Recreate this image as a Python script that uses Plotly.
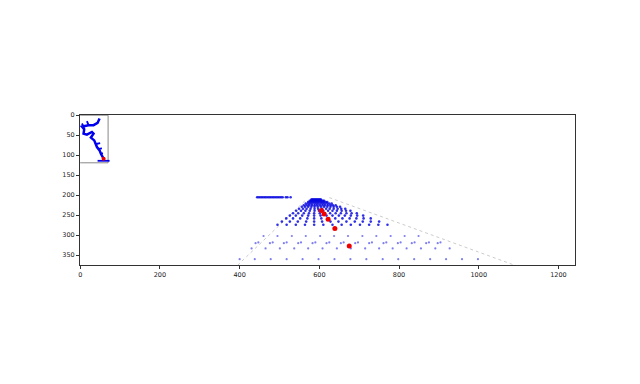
import plotly.graph_objects as go

# ---------------- data (image pixel coordinates) ----------------
IMG_W = 1242
IMG_H = 375
x_ticks = [0, 200, 400, 600, 800, 1000, 1200]
y_ticks = [0, 50, 100, 150, 200, 250, 300, 350]

# horizon row of blue points
row205_x = [444, 448, 452, 456, 460, 464, 468, 472, 476, 480, 484, 488, 492, 496,
            500, 504, 508, 516, 520, 528]
row205_y = 205

# fan of ground-grid points converging toward the vanishing point
fan_rows_y = [211, 214, 217, 221, 225, 229, 234, 239, 245, 251, 258, 266, 274]
fan_rows_x = [
    [580, 582, 584, 586, 588, 590, 592, 594, 596, 598, 600, 602, 604],
    [576, 579, 582, 585, 588, 591, 594, 597, 600, 603, 606, 609, 612],
    [572, 576, 580, 584, 588, 592, 596, 600, 604, 608, 612, 616, 620],
    [566, 572, 577, 582, 588, 593, 598, 604, 609, 614, 620, 625, 631],
    [561, 568, 574, 581, 588, 594, 601, 608, 614, 621, 628, 634, 641],
    [556, 564, 572, 580, 588, 596, 604, 612, 620, 628, 636, 644, 652],
    [549, 559, 568, 578, 588, 597, 607, 617, 626, 636, 646, 655, 665],
    [542, 554, 565, 576, 588, 599, 610, 622, 633, 644, 656, 667, 678],
    [534, 547, 561, 574, 587, 601, 614, 627, 641, 654, 668, 681, 694],
    [526, 541, 557, 572, 587, 603, 618, 633, 649, 664, 679, 695, 710],
    [517, 534, 552, 570, 587, 605, 623, 640, 658, 676, 693, 711, 729],
    [506, 526, 546, 567, 587, 607, 628, 648, 668, 689, 709, 729, 750],
    [495, 518, 541, 564, 587, 610, 633, 656, 679, 702, 725, 748, 771],
]

# nearer rows
row302_x = [460, 495, 531, 566, 602, 637, 672, 708, 743, 779, 814, 849]
row320_x = [440, 476, 511, 547, 583, 618, 654, 690, 725, 761, 797, 832, 868, 897]
row320b_x = [447, 483, 518, 554, 590, 625, 661, 697, 732, 768, 804, 839, 875, 904]
row333_x = [430, 465, 501, 537, 572, 608, 644, 679, 715, 750, 784, 819, 855, 891, 927]
row360_x = [400, 438, 478, 518, 558, 598, 638, 678, 718, 759, 798, 838, 878, 918, 958, 998]
near_rows_y = [302, 320, 318, 333, 360]

# red trajectory points
red_x = [605, 612, 622, 639, 675]
red_y = [238, 247, 260, 283, 327]

# grey dotted boundary lines
left_line_x = [395, 568]
left_line_y = [375, 210]
right_line_x = [625, 1090]
right_line_y = [206, 375]

# inset (top-left) map
inset_box_x = [0, 70, 70, 0]
inset_box_y = [119, 119, 0, 0]
path_x = [48.6, 43.6, 33.5, 21, 8.4, 10, 8.4, 16.8, 29.4, 33.5, 26.8, 35.2, 42, 48.6, 52, 57, 60.4]
path_y = [8.4, 19.3, 25, 25, 27.7, 36, 46, 48.6, 42, 46, 56, 63, 79.7, 88, 96.5, 106.5, 111.5]
branch_x = [21, 16.8, None, 8.4, 4.2, None, 10, 1, None, 40, 50, None, 46, 54.5, None, 52, 57, None, 43.6, 73.7]
branch_y = [25, 15, None, 27.7, 21, None, 36, 26, None, 72, 70, None, 84, 83, None, 96.5, 95, None, 114, 114]
inset_red_x = [58.7]
inset_red_y = [109]

# ---------------- build figure ----------------
fan_x, fan_y = list(row205_x), [row205_y] * len(row205_x)
for yy, xs in zip(fan_rows_y, fan_rows_x):
    fan_x += xs
    fan_y += [yy] * len(xs)
near_x, near_y = [], []
for yy, xs in zip(near_rows_y, [row302_x, row320_x, row320b_x, row333_x, row360_x]):
    near_x += xs
    near_y += [yy] * len(xs)

fig = go.Figure()

fig.add_trace(go.Scatter(x=left_line_x, y=left_line_y, mode="lines",
                         line=dict(color="#cccccc", width=1, dash="dot"), hoverinfo="skip"))
fig.add_trace(go.Scatter(x=right_line_x, y=right_line_y, mode="lines",
                         line=dict(color="#cccccc", width=1, dash="dot"), hoverinfo="skip"))

fig.add_trace(go.Scatter(x=fan_x, y=fan_y, mode="markers",
                         marker=dict(color="rgba(10,10,225,0.85)", size=2.6, line=dict(width=0))))
fig.add_trace(go.Scatter(x=near_x, y=near_y, mode="markers",
                         marker=dict(color="rgba(40,40,230,0.6)", size=2.2, line=dict(width=0))))

fig.add_trace(go.Scatter(x=red_x, y=red_y, mode="markers",
                         marker=dict(color="#ee0000", size=5, line=dict(width=0))))

# inset
fig.add_trace(go.Scatter(x=inset_box_x, y=inset_box_y, mode="lines",
                         line=dict(color="#888888", width=1)))
fig.add_trace(go.Scatter(x=path_x, y=path_y, mode="lines",
                         line=dict(color="#0000ee", width=2.5)))
fig.add_trace(go.Scatter(x=branch_x, y=branch_y, mode="lines",
                         line=dict(color="#0000ee", width=1.8)))
fig.add_trace(go.Scatter(x=inset_red_x, y=inset_red_y, mode="markers",
                         marker=dict(color="#ee0000", size=4)))

axis_common = dict(showgrid=False, zeroline=False, showline=True, mirror=True,
                   linecolor="#333333", linewidth=1, ticks="outside", ticklen=3,
                   tickcolor="#333333", tickwidth=1,
                   tickfont=dict(family="DejaVu Sans", size=6.5, color="#222222"))

fig.update_layout(
    width=640, height=384,
    margin=dict(l=80, r=65, t=115, b=119),
    paper_bgcolor="white", plot_bgcolor="white",
    showlegend=False,
    xaxis=dict(range=[-0.5, IMG_W - 0.5], tickvals=x_ticks, ticktext=[str(t) for t in x_ticks],
               **axis_common),
    yaxis=dict(range=[IMG_H - 0.5, -0.5], tickvals=y_ticks, ticktext=[str(t) for t in y_ticks],
               **axis_common),
)

fig.write_html("out.html")
